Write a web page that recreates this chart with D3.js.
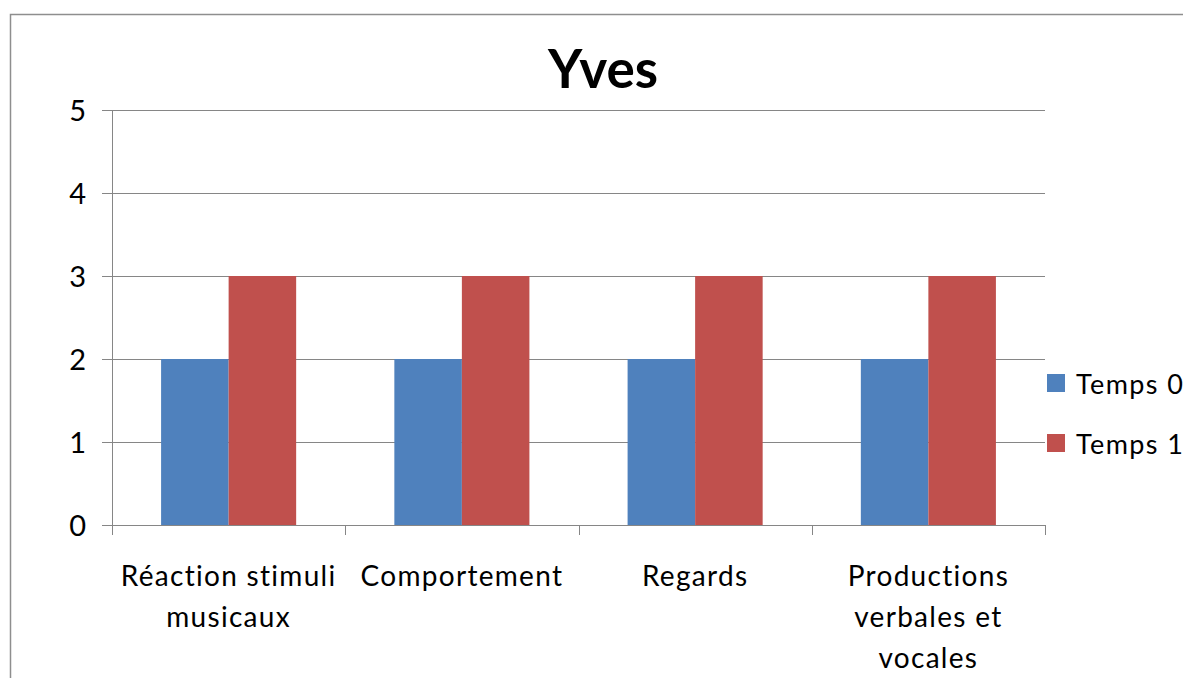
<!DOCTYPE html>
<html>
<head>
<meta charset="utf-8">
<script src="https://cdn.jsdelivr.net/npm/d3@7"></script>
<style>
  html, body { margin: 0; padding: 0; background: #fff; }
  svg { display: block; }
  text { font-family: Lato, "Open Sans", sans-serif; fill: #000; }
</style>
</head>
<body>
<svg id="chart" width="1183" height="678"></svg>
<script>
// Scores per domain, two assessment times
const categories = [
  ["Réaction stimuli", "musicaux"],
  ["Comportement"],
  ["Regards"],
  ["Productions", "verbales et", "vocales"]
];
const seriesNames = ["Temps 0", "Temps 1"];
const temps0 = [2, 2, 2, 2];
const temps1 = [3, 3, 3, 3];
const yTicks = [0, 1, 2, 3, 4, 5];
const colors = ["#4f81bd", "#c0504d"];

const svg = d3.select("#chart");

// Chart frame
svg.append("rect")
  .attr("x", 10.5).attr("y", 14.5)
  .attr("width", 1190).attr("height", 700)
  .attr("fill", "none").attr("stroke", "#8e8e8e").attr("stroke-width", 1.5);

const plot = { left: 112, right: 1045, top: 110, bottom: 525 };

const y = d3.scaleLinear().domain([0, 5]).range([plot.bottom, plot.top]);
const x0 = d3.scaleBand().domain(d3.range(categories.length))
  .range([plot.left, plot.right]).paddingInner(0).paddingOuter(0);
const x1 = d3.scaleBand().domain(seriesNames)
  .range([0, x0.bandwidth()]).paddingInner(0).paddingOuter(0.727);

// Horizontal gridlines with outward tick marks
const yAxis = d3.axisLeft(y).tickValues(yTicks).tickSize(plot.right - plot.left)
  .tickFormat(d3.format("d"));
const gy = svg.append("g").attr("transform", `translate(${plot.right},0)`).call(yAxis);
gy.select(".domain").remove();
gy.selectAll(".tick line").attr("stroke", "#868686").attr("stroke-width", 1)
  .attr("x1", 0).attr("x2", -(plot.right - plot.left) - 10);
gy.selectAll(".tick text").attr("x", -(plot.right - plot.left) - 26)
  .attr("dy", "0.36em").style("font-size", "29px")
  .style("font-family", "Lato, 'Open Sans', sans-serif");

// Vertical value axis line
svg.append("line")
  .attr("x1", plot.left + 0.5).attr("x2", plot.left + 0.5)
  .attr("y1", plot.top).attr("y2", plot.bottom)
  .attr("stroke", "#868686");

// Category axis with boundary tick marks
const bounds = d3.range(categories.length + 1).map(i => i === categories.length ? plot.right : x0(i));
svg.append("g").selectAll("line").data(bounds).join("line")
  .attr("x1", d => Math.round(d) + 0.5).attr("x2", d => Math.round(d) + 0.5)
  .attr("y1", plot.bottom).attr("y2", plot.bottom + 10)
  .attr("stroke", "#868686");

// Bars
const groups = svg.append("g").selectAll("g").data(categories.map((c, i) => i)).join("g")
  .attr("transform", i => `translate(${x0(i)},0)`);
groups.selectAll("rect")
  .data(i => [{ s: seriesNames[0], v: temps0[i] }, { s: seriesNames[1], v: temps1[i] }])
  .join("rect")
  .attr("x", d => x1(d.s))
  .attr("width", x1.bandwidth())
  .attr("y", d => y(d.v))
  .attr("height", d => y(0) - y(d.v))
  .attr("fill", (d, j) => colors[j]);

// Category labels
const lab = svg.append("g").selectAll("text").data(categories).join("text")
  .attr("text-anchor", "middle")
  .style("font-size", "28px").style("letter-spacing", "1.3px")
  .attr("transform", (d, i) => `translate(${x0(i) + x0.bandwidth() / 2},586)`);
lab.selectAll("tspan").data(d => d).join("tspan")
  .attr("x", 0).attr("y", (d, k) => k * 41)
  .text(d => d);

// Title
svg.append("text")
  .attr("x", 603).attr("y", 88)
  .attr("text-anchor", "middle")
  .style("font-size", "53px").style("font-weight", "bold")
  .text("Yves");

// Legend
const legend = svg.append("g").selectAll("g").data(seriesNames).join("g")
  .attr("transform", (d, i) => `translate(1047,${374 + i * 60})`);
legend.append("rect").attr("width", 18).attr("height", 18).attr("fill", (d, i) => colors[i]);
legend.append("text").attr("x", 29).attr("y", 20)
  .style("font-size", "27px").style("letter-spacing", "1.4px").text(d => d);
</script>
</body>
</html>
